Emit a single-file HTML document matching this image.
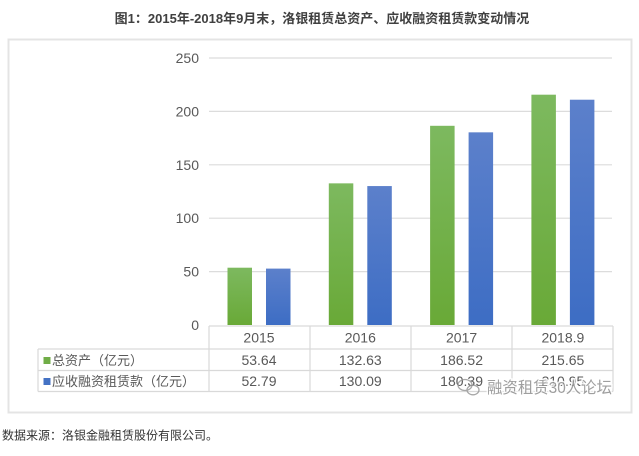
<!DOCTYPE html>
<html><head><meta charset="utf-8">
<style>
html,body{margin:0;padding:0;background:#fff;}
svg{display:block;}
text{font-family:"Liberation Sans","Noto Sans CJK SC",sans-serif;}
</style></head>
<body>
<svg width="639" height="456" viewBox="0 0 639 456" xmlns="http://www.w3.org/2000/svg">
<defs>
<linearGradient id="g" x1="0" y1="0" x2="0" y2="1"><stop offset="0" stop-color="#7db95f"/><stop offset="1" stop-color="#69a937"/></linearGradient>
<linearGradient id="b" x1="0" y1="0" x2="0" y2="1"><stop offset="0" stop-color="#5c80cb"/><stop offset="1" stop-color="#3d6dc4"/></linearGradient>
</defs>
<text x="322" y="23" text-anchor="middle" font-size="13" font-weight="bold" fill="#404040">图1：2015年-2018年9月末，洛银租赁总资产、应收融资租赁款变动情况</text>
<rect x="8.5" y="39.5" width="623" height="373" fill="#fff" stroke="#e4e4e4" stroke-width="2"/>
<g stroke="#dcdcdc" stroke-width="1.2">
<line x1="209" y1="58" x2="612" y2="58"/>
<line x1="209" y1="111.4" x2="612" y2="111.4"/>
<line x1="209" y1="164.8" x2="612" y2="164.8"/>
<line x1="209" y1="218.2" x2="612" y2="218.2"/>
<line x1="209" y1="271.6" x2="612" y2="271.6"/>
</g>
<g font-size="14" fill="#595959" text-anchor="end">
<text x="199" y="63">250</text>
<text x="199" y="116.4">200</text>
<text x="199" y="169.8">150</text>
<text x="199" y="223.2">100</text>
<text x="199" y="276.6">50</text>
<text x="199" y="330">0</text>
</g>
<g>
<rect x="227.5" y="267.7" width="24.5" height="57.3" fill="url(#g)"/>
<rect x="266" y="268.6" width="24.5" height="56.4" fill="url(#b)"/>
<rect x="328.8" y="183.35" width="24.5" height="141.65" fill="url(#g)"/>
<rect x="367.3" y="186.06" width="24.5" height="138.94" fill="url(#b)"/>
<rect x="430.1" y="125.8" width="24.5" height="199.2" fill="url(#g)"/>
<rect x="468.6" y="132.34" width="24.5" height="192.66" fill="url(#b)"/>
<rect x="531.4" y="94.69" width="24.5" height="230.31" fill="url(#g)"/>
<rect x="569.9" y="99.71" width="24.5" height="225.29" fill="url(#b)"/>
</g>
<g stroke="#d9d9d9" stroke-width="1.2" fill="none">
<line x1="209" y1="326" x2="613" y2="326"/>
<line x1="38" y1="349" x2="613" y2="349"/>
<line x1="38" y1="370.5" x2="613" y2="370.5"/>
<line x1="38" y1="391.5" x2="613" y2="391.5"/>
<line x1="38" y1="349" x2="38" y2="391.5"/>
<line x1="209" y1="326" x2="209" y2="391.5"/>
<line x1="310" y1="326" x2="310" y2="391.5"/>
<line x1="411" y1="326" x2="411" y2="391.5"/>
<line x1="512" y1="326" x2="512" y2="391.5"/>
<line x1="613" y1="326" x2="613" y2="391.5"/>
</g>
<g font-size="14" fill="#595959" text-anchor="middle">
<text x="259" y="342.5">2015</text>
<text x="360.3" y="342.5">2016</text>
<text x="461.6" y="342.5">2017</text>
<text x="562.9" y="342.5">2018.9</text>
<text x="259" y="365">53.64</text>
<text x="360.3" y="365">132.63</text>
<text x="461.6" y="365">186.52</text>
<text x="562.9" y="365">215.65</text>
<text x="259" y="386">52.79</text>
<text x="360.3" y="386">130.09</text>
<text x="461.6" y="386">180.39</text>
<text x="562.9" y="386">210.95</text>
</g>
<rect x="43.5" y="357" width="7" height="7" fill="#70ad47"/>
<rect x="43.5" y="378" width="7" height="7" fill="#4472c4"/>
<g font-size="13" fill="#595959">
<text x="52" y="365">总资产（亿元）</text>
<text x="52" y="386">应收融资租赁款（亿元）</text>
</g>
<g opacity="0.85">
<g fill="none" stroke="#9a9a9a" stroke-width="1.3">
<ellipse cx="465" cy="385" rx="7" ry="5.5"/>
<ellipse cx="473" cy="390" rx="6" ry="4.8"/>
</g>
<text x="487" y="393" font-size="16" textLength="125" lengthAdjust="spacingAndGlyphs" fill="#8f8f8f" stroke="#ffffff" stroke-width="3" paint-order="stroke">融资租赁30人论坛</text>
</g>
<text x="2" y="439.5" font-size="12" fill="#333">数据来源：洛银金融租赁股份有限公司。</text>
</svg>
</body></html>
